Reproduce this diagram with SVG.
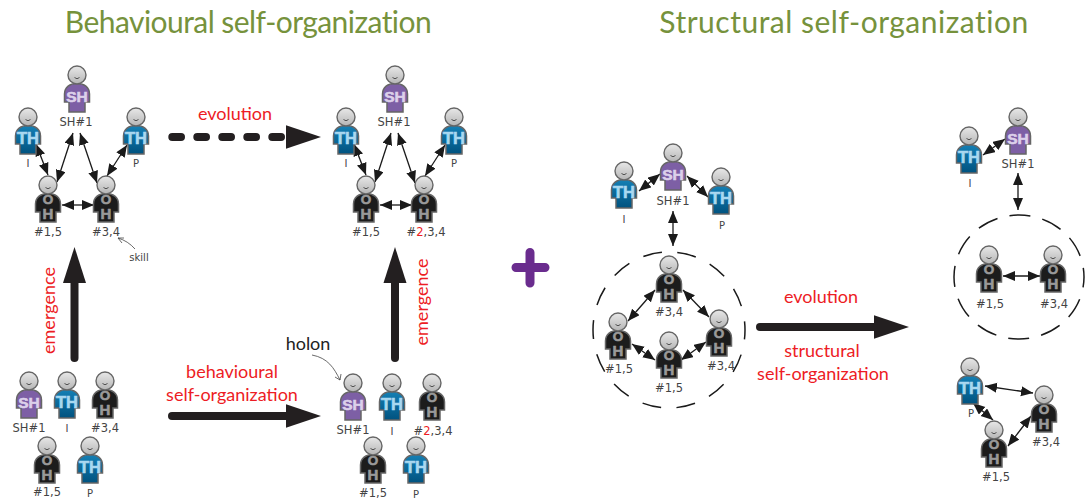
<svg xmlns="http://www.w3.org/2000/svg" width="1086" height="504" viewBox="0 0 1086 504">
<style>
.t{font-family:"Lato","Liberation Sans",sans-serif;font-size:30px;fill:#76923c;text-anchor:middle}
.r{font-family:"Lato","Liberation Sans",sans-serif;font-size:18px;fill:#ed1c24;text-anchor:middle}
.l{font-family:"DejaVu Sans","Liberation Sans",sans-serif;font-size:11.5px;fill:#444;text-anchor:middle}
.s{font-size:10px}
.h{font-family:"Lato","Liberation Sans",sans-serif;font-size:18px;fill:#222;text-anchor:middle}
.g{font-family:"Liberation Sans",sans-serif;font-weight:bold;text-anchor:middle;stroke-width:.6}
.b{fill:none;stroke:#1a1a1a;stroke-width:1.3;marker-start:url(#a);marker-end:url(#a)}
.k{fill:none;stroke:#231f20;stroke-width:8;stroke-linecap:round}
.sm{fill:none;stroke:#444;stroke-width:.8}
.hd{fill:#231f20}
.d{fill:none;stroke:#1a1a1a;stroke-width:1.5}
</style>
<defs>
<linearGradient id="hg" x1="0" y1="0" x2="0" y2="1"><stop offset="0" stop-color="#e8e8e8"/><stop offset="1" stop-color="#b5b5b5"/></linearGradient>
<linearGradient id="tg" x1="0" y1="0" x2="0" y2="1"><stop offset="0" stop-color="#1580b5"/><stop offset="1" stop-color="#00527f"/></linearGradient>
<marker id="a" markerUnits="userSpaceOnUse" markerWidth="13" markerHeight="11" refX="12" refY="5" orient="auto-start-reverse"><path d="M0,0L12,5L0,10z" fill="#1a1a1a"/></marker>
<path id="body" d="M-8,37V27H-12.5V19C-12.5,12-7,8.500,0,8.500S12.500,12 12.500,19V27H8V37z" stroke="#666" stroke-width="1.500"/>
<g id="face"><circle r="9" fill="url(#hg)" stroke="#666" stroke-width="1.400"/><path d="M-2.500,2.500Q0,5 2.500,2.500" fill="none" stroke="#333" stroke-width=".8"/></g>
<g id="SH"><use href="#body" fill="#7d5fa5"/><use href="#face"/><text class="g" y="26.500" font-size="15.500" fill="#dcd0ea" stroke="#dcd0ea">SH</text></g>
<g id="TH"><use href="#body" fill="url(#tg)"/><use href="#face"/><text class="g" y="26.500" font-size="16.500" fill="#a9d8f0" stroke="#a9d8f0">TH</text></g>
<g id="OH"><use href="#body" fill="#1c1c1c"/><text class="g" y="18.500" font-size="13.500" fill="#999" stroke="#999">O</text><text class="g" y="33.500" font-size="15" fill="#999" stroke="#999">H</text><use href="#face"/></g>
</defs>
<rect width="1086" height="504" fill="#fff"/>
<text class="t" x="248" y="33" letter-spacing="-.55">Behavioural self-organization</text>
<text class="t" x="844" y="33" letter-spacing=".5">Structural self-organization</text>
<g id="connectors">
<path class="b" d="M36,144L48,175"/><path class="b" d="M73,133L57,182"/><path class="b" d="M80,133L97,183"/><path class="b" d="M127,145L107,176"/><path class="b" d="M62,205H94"/>
<path class="b" d="M354,144L366,175"/><path class="b" d="M391,133L375,182"/><path class="b" d="M398,133L415,183"/><path class="b" d="M445,145L425,176"/><path class="b" d="M380,205H412"/>
<path class="b" d="M639,191L660,174"/><path class="b" d="M687,176L708,197"/><path class="b" d="M673,211V246"/>
<path class="b" d="M655,290L628,321"/><path class="b" d="M683,290L709,317"/><path class="b" d="M632,344L655,360"/><path class="b" d="M681,360L706,342"/>
<path class="b" d="M983,155L1005,139"/><path class="b" d="M1018,173V210"/><path class="b" d="M1003,276H1040"/>
<path class="b" d="M985,386L1033,393"/><path class="b" d="M973,403L993,420"/><path class="b" d="M1031,416L1008,446"/>
<path class="sm" d="M118,238Q128,241 135,249"/><path class="sm" d="M122,243L118,238L124,238"/>
<path class="sm" d="M312,355C328,358 334,368 340,380"/><path class="sm" d="M335,377L340,380L341,374"/>
<ellipse class="d" cx="669" cy="330" rx="76" ry="78" stroke-dasharray="19 15.560" stroke-dashoffset="9.500"/>
<ellipse class="d" cx="1019" cy="277" rx="65" ry="62" stroke-dasharray="21 12.300" stroke-dashoffset="10.500"/>
<path class="k" d="M74.500,358V280"/><path class="hd" d="M74.500,247L63,283H86z"/>
<path class="k" d="M395,358V280"/><path class="hd" d="M395,247L383.500,283H406.500z"/>
<path class="k" d="M172.300,137H288" stroke-dasharray="8.700 16.300"/><path class="hd" d="M321,137L286,125.300V148.700z"/>
<path class="k" d="M172,416H290"/><path class="hd" d="M321,416L286,404.300V427.700z"/>
<path class="k" d="M760,327H878"/><path class="hd" d="M909,327L874,315.300V338.700z"/>
</g>
<path id="plus" d="M530,252.500V283M516,267.500H545" fill="none" stroke="#6a2c8e" stroke-width="9" stroke-linecap="round"/>
<g id="a-sh"><use href="#SH" x="77" y="75"/><text class="l" x="76" y="126">SH#1</text></g>
<g id="a-i"><use href="#TH" x="28" y="117"/><text class="l s" x="28" y="167">I</text></g>
<g id="a-p"><use href="#TH" x="136" y="117"/><text class="l s" x="136" y="167">P</text></g>
<g id="a-15"><use href="#OH" x="48" y="185"/><text class="l" x="48" y="236">#1,5</text></g>
<g id="a-34"><use href="#OH" x="106" y="185"/><text class="l" x="106" y="236">#3,4</text><text class="l s" x="139" y="261">skill</text></g>
<g id="b-sh"><use href="#SH" x="395" y="75"/><text class="l" x="394" y="126">SH#1</text></g>
<g id="b-i"><use href="#TH" x="346" y="117"/><text class="l s" x="346" y="167">I</text></g>
<g id="b-p"><use href="#TH" x="454" y="117"/><text class="l s" x="454" y="167">P</text></g>
<g id="b-15"><use href="#OH" x="366" y="185"/><text class="l" x="366" y="236">#1,5</text></g>
<g id="b-234"><use href="#OH" x="424" y="185"/><text class="l" x="426" y="236">#<tspan fill="#ed1c24">2</tspan>,3,4</text></g>
<g id="c-sh"><use href="#SH" x="29" y="381"/><text class="l" x="29" y="432">SH#1</text></g>
<g id="c-i"><use href="#TH" x="67" y="381"/><text class="l s" x="67" y="432">I</text></g>
<g id="c-34"><use href="#OH" x="105" y="381"/><text class="l" x="105" y="432">#3,4</text></g>
<g id="c-15"><use href="#OH" x="47" y="446"/><text class="l" x="47" y="496">#1,5</text></g>
<g id="c-p"><use href="#TH" x="90" y="446"/><text class="l s" x="90" y="497">P</text></g>
<g id="d-sh"><use href="#SH" x="353" y="383"/><text class="l" x="353" y="434">SH#1</text></g>
<g id="d-i"><use href="#TH" x="392" y="383"/><text class="l s" x="392" y="435">I</text></g>
<g id="d-234"><use href="#OH" x="432" y="383"/><text class="l" x="433" y="435">#<tspan fill="#ed1c24">2</tspan>,3,4</text></g>
<g id="d-15"><use href="#OH" x="373" y="446"/><text class="l" x="373" y="497">#1,5</text></g>
<g id="d-p"><use href="#TH" x="416" y="446"/><text class="l s" x="416" y="498">P</text></g>
<g id="e-sh"><use href="#SH" x="673" y="153"/><text class="l" x="673" y="205">SH#1</text></g>
<g id="e-i"><use href="#TH" x="624" y="171"/><text class="l s" x="624" y="223">I</text></g>
<g id="e-p"><use href="#TH" x="721" y="177"/><text class="l s" x="722" y="229">P</text></g>
<g id="e-34a"><use href="#OH" x="669" y="265"/><text class="l" x="669" y="316">#3,4</text></g>
<g id="e-15a"><use href="#OH" x="618" y="322"/><text class="l" x="619" y="373">#1,5</text></g>
<g id="e-34b"><use href="#OH" x="719" y="319"/><text class="l" x="721" y="370">#3,4</text></g>
<g id="e-15b"><use href="#OH" x="669" y="341"/><text class="l" x="669" y="392">#1,5</text></g>
<g id="f-i"><use href="#TH" x="969" y="136"/><text class="l s" x="970" y="187">I</text></g>
<g id="f-sh"><use href="#SH" x="1018" y="117"/><text class="l" x="1018" y="168">SH#1</text></g>
<g id="f-15"><use href="#OH" x="989" y="255"/><text class="l" x="990" y="308">#1,5</text></g>
<g id="f-34"><use href="#OH" x="1053" y="255"/><text class="l" x="1054" y="308">#3,4</text></g>
<g id="g-p"><use href="#TH" x="970" y="367"/><text class="l s" x="971" y="417">P</text></g>
<g id="g-34"><use href="#OH" x="1044" y="395"/><text class="l" x="1046" y="446">#3,4</text></g>
<g id="g-15"><use href="#OH" x="994" y="430"/><text class="l" x="996" y="481">#1,5</text></g>
<text class="r" x="235" y="120">evolution</text>
<text class="r" x="232" y="378">behavioural</text>
<text class="r" x="232" y="401">self-organization</text>
<text class="r" transform="translate(55,310.500) rotate(-90)">emergence</text>
<text class="r" transform="translate(428,302) rotate(-90)">emergence</text>
<text class="r" x="821" y="303">evolution</text>
<text class="r" x="822" y="357">structural</text>
<text class="r" x="823" y="380">self-organization</text>
<text class="h" x="308" y="350">holon</text>
</svg>
